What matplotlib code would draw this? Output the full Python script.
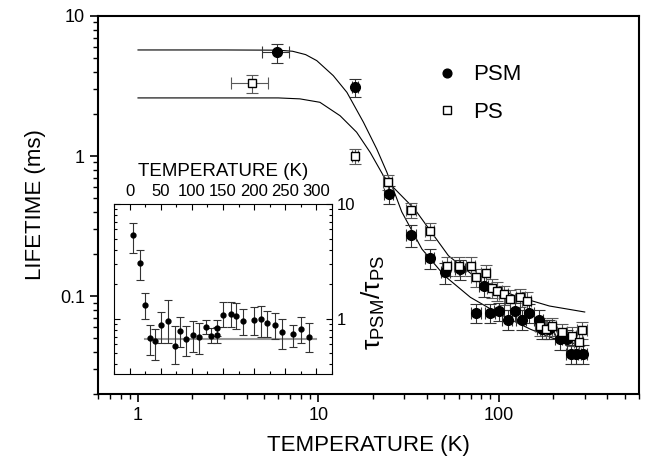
import numpy as np
import matplotlib
matplotlib.use('Agg')
import matplotlib.pyplot as plt
from matplotlib.ticker import LogLocator, NullFormatter, FixedLocator, MultipleLocator

plt.rcParams['font.family'] = ['Liberation Sans', 'DejaVu Sans']
plt.rcParams['mathtext.fontset'] = 'custom'
plt.rcParams['mathtext.rm'] = 'Liberation Sans'
plt.rcParams['mathtext.it'] = 'Liberation Sans:italic'

# =============================================================================
# Main data: lifetimes (ms) vs temperature (K)
# =============================================================================
psm_T = [5.9, 16.0, 24.5, 32.6, 41.4, 50.6, 61.2, 82.6, 75, 90, 101, 112, 123,
         134, 147, 167, 174, 190, 220, 240, 252, 270, 292]
psm_tau = [5.5, 3.1, 0.535, 0.274, 0.186, 0.148, 0.156, 0.119, 0.076, 0.076,
           0.078, 0.068, 0.078, 0.068, 0.076, 0.068, 0.058, 0.058, 0.049,
           0.049, 0.0385, 0.0385, 0.0385]
psm_yerr = [0.85, 0.47, 0.08, 0.05, 0.03, 0.025, 0.025, 0.02, 0.012, 0.012,
            0.012, 0.011, 0.012, 0.011, 0.012, 0.011, 0.009, 0.009, 0.008,
            0.008, 0.006, 0.006, 0.006]
psm_xerr = [1.0, 0.6, 1.5, 2.0, 2.5, 3.0, 4.0, 5.0, 5.0, 6.0, 6.5, 7.0, 8.0,
            8.5, 9.0, 10, 11, 12, 14, 15, 16, 17, 18]

ps_T = [4.27, 16.0, 24.2, 32.6, 41.4, 51.6, 59.9, 70.3, 75, 85, 92, 98, 106.6,
        116, 132, 143, 170, 182, 197, 225, 255, 278, 290]
ps_tau = [3.32, 1.0, 0.65, 0.41, 0.29, 0.165, 0.165, 0.165, 0.136, 0.146,
          0.115, 0.109, 0.103, 0.095, 0.098, 0.093, 0.061, 0.058, 0.061,
          0.055, 0.052, 0.047, 0.057]
ps_yerr = [0.5, 0.12, 0.08, 0.05, 0.04, 0.025, 0.025, 0.025, 0.02, 0.022,
           0.018, 0.017, 0.016, 0.015, 0.015, 0.014, 0.009, 0.009, 0.009,
           0.008, 0.008, 0.007, 0.008]
ps_xerr = [1.0, 0.6, 1.5, 2.0, 2.5, 3.0, 3.5, 4.0, 4.5, 5.0, 6.0, 6.0, 6.5,
           7.0, 8.0, 9.0, 10, 11, 12, 14, 15, 16, 17]

# fit curves
fit_psm_T = [1.0, 3.0, 6.0, 7.2, 8.5, 9.8, 12.1, 14.4, 17.8, 21.1, 24, 29,
             37.5, 50, 69.7, 100, 150, 200, 300]
fit_psm_tau = [5.72, 5.72, 5.70, 5.6, 5.3, 4.8, 3.75, 2.85, 1.74, 1.12, 0.765,
               0.40, 0.217, 0.14, 0.098, 0.075, 0.058, 0.05, 0.044]
fit_ps_T = [1.0, 3.0, 6.0, 7.9, 10.2, 13.2, 16.3, 19.4, 23, 25.3, 34.2, 52.7,
            81, 124.5, 191, 300]
fit_ps_tau = [2.6, 2.6, 2.6, 2.56, 2.42, 1.94, 1.48, 1.06, 0.72, 0.62, 0.418,
              0.194, 0.125, 0.10, 0.085, 0.077]

# =============================================================================
# Inset data: ratio tau_PSM / tau_PS
# =============================================================================
ratio_T = [5.4, 16, 24, 32, 40, 50, 62, 72.6, 81.7, 90, 101, 111, 122, 130,
           140, 141, 149.5, 162, 171, 182, 199, 211, 221, 233, 245, 262, 275, 288]
ratio = [5.35, 3.08, 1.32, 0.686, 0.64, 0.886, 0.96, 0.58, 0.79, 0.66, 0.72,
         0.70, 0.85, 0.71, 0.83, 0.72, 1.08, 1.1, 1.06, 0.95, 0.97, 1.0, 0.91,
         0.88, 0.77, 0.73, 0.81, 0.70]
ratio_lo = [1.58, 0.89, 0.32, 0.206, 0.20, 0.276, 0.34, 0.18, 0.22, 0.19, 0.21,
            0.21, 0.12, 0.10, 0.12, 0.10, 0.24, 0.25, 0.25, 0.23, 0.25, 0.30,
            0.22, 0.22, 0.23, 0.16, 0.20, 0.19]
ratio_hi = [1.55, 0.87, 0.36, 0.194, 0.17, 0.254, 0.51, 0.29, 0.24, 0.20, 0.23,
            0.22, 0.12, 0.12, 0.14, 0.12, 0.31, 0.30, 0.30, 0.27, 0.30, 0.28,
            0.25, 0.24, 0.23, 0.16, 0.22, 0.22]
ratio_line_T = [24, 300]
ratio_line = [0.66, 0.66]

# =============================================================================
# Plot
# =============================================================================
fig = plt.figure(figsize=(6.49, 4.66), dpi=100)
ax = fig.add_axes([0.151, 0.1545, 0.8336, 0.8112])

ax.plot(fit_psm_T, fit_psm_tau, '-', color='black', lw=0.8)
ax.plot(fit_ps_T, fit_ps_tau, '-', color='black', lw=0.8)

ax.errorbar(ps_T, ps_tau, yerr=ps_yerr, xerr=ps_xerr, fmt='none',
            ecolor='0.35', elinewidth=0.8, capsize=4, capthick=0.8)
ax.errorbar(psm_T, psm_tau, yerr=psm_yerr, xerr=psm_xerr, fmt='none',
            ecolor='0.2', elinewidth=0.8, capsize=4, capthick=0.8)
ax.plot(psm_T, psm_tau, 'o', color='black', ms=7, label='PSM')
ax.plot(ps_T, ps_tau, 's', mfc='white', mec='black', mew=1.0, ms=6, label='PS')

ax.set_xscale('log')
ax.set_yscale('log')
ax.set_xlim(0.6, 600)
ax.set_ylim(0.02, 10)
ax.set_xticks([1, 10, 100])
ax.set_xticklabels(['1', '10', '100'])
ax.set_yticks([0.1, 1, 10])
ax.set_yticklabels(['0.1', '1', '10'])
ax.xaxis.set_minor_locator(LogLocator(base=10, subs=np.arange(2, 10)))
ax.yaxis.set_minor_locator(LogLocator(base=10, subs=np.arange(2, 10)))
ax.xaxis.set_minor_formatter(NullFormatter())
ax.yaxis.set_minor_formatter(NullFormatter())
ax.tick_params(which='major', direction='out', length=6, width=1.2, labelsize=13)
ax.tick_params(which='minor', direction='out', length=3.5, width=1.0)
for s in ax.spines.values():
    s.set_linewidth(1.5)

ax.set_xlabel('TEMPERATURE (K)', fontsize=16, labelpad=8)
ax.set_ylabel('LIFETIME (ms)', fontsize=16, labelpad=10)

leg = ax.legend(loc='upper left', bbox_to_anchor=(0.587, 0.925), frameon=False,
                fontsize=16, handletextpad=0.7, labelspacing=0.75,
                handlelength=1.0, markerscale=0.9)

fig.text(0.576, 0.35, 'τ$_{\\rm PSM}$/τ$_{\\rm PS}$', rotation=90,
         fontsize=19, ha='center', va='center')

# =============================================================================
# Inset
# =============================================================================
ax_in = fig.add_axes([0.1757, 0.1974, 0.3359, 0.3648])
ax_in.plot(ratio_line_T, ratio_line, '-', color='0.6', lw=1.5)
ax_in.errorbar(ratio_T, ratio, yerr=[ratio_lo, ratio_hi], fmt='o',
               color='black', ms=3.5, ecolor='0.2', elinewidth=0.8,
               capsize=3, capthick=0.8)
ax_in.set_yscale('log')
ax_in.set_xlim(-25, 325)
ax_in.set_ylim(0.33, 10)
ax_in.xaxis.set_major_locator(MultipleLocator(50))
ax_in.xaxis.set_minor_locator(MultipleLocator(25))
ax_in.yaxis.set_major_locator(FixedLocator([1, 10]))
ax_in.yaxis.set_minor_locator(LogLocator(base=10, subs=np.arange(2, 10)))
ax_in.yaxis.set_minor_formatter(NullFormatter())
ax_in.set_yticklabels(['1', '10'])
ax_in.tick_params(which='both', top=True, bottom=True, left=True, right=True,
                  labeltop=True, labelbottom=False, labelleft=False,
                  labelright=True, direction='in', labelsize=12)
ax_in.tick_params(which='major', length=4, width=0.8)
ax_in.tick_params(which='minor', length=2.5, width=0.8)
ax_in.xaxis.set_label_position('top')
ax_in.set_xlabel('TEMPERATURE (K)', fontsize=13.5, labelpad=6)
for s in ax_in.spines.values():
    s.set_linewidth(0.8)

fig.savefig('out.png', dpi=100)
